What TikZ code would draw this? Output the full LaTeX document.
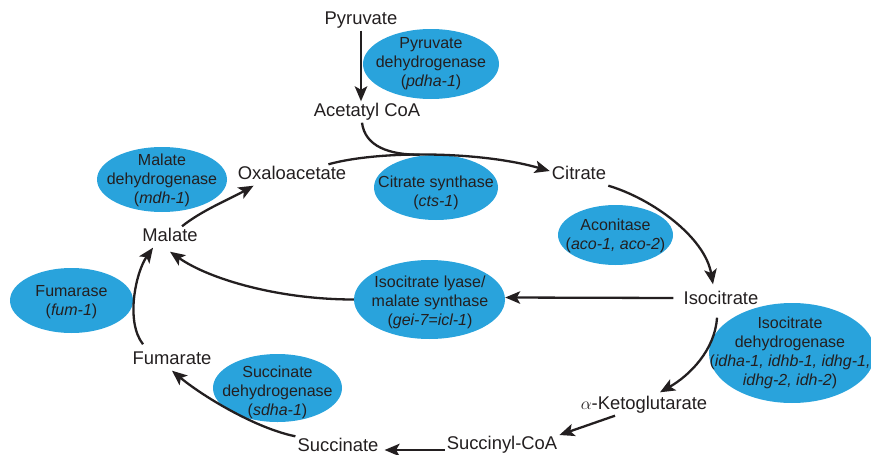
\documentclass[tikz,border=0pt]{standalone}
\usepackage{fontspec}
\setmainfont{Liberation Sans}
\usepackage{tikz}
\usetikzlibrary{arrows.meta,shapes.geometric}
\definecolor{ink}{RGB}{35,31,32}
\definecolor{enzblue}{RGB}{41,163,220}

\begin{document}
\begin{tikzpicture}[x=1pt,y=-1pt,
  met/.style={text=ink,font=\fontsize{18.4}{20}\selectfont,inner sep=2pt,text height=13pt,text depth=4pt},
  enz/.style={ellipse,fill=enzblue,inner sep=0pt},
  enztxt/.style={text=ink,font=\fontsize{16}{19}\selectfont,align=center,inner sep=0pt},
  lnk/.style={draw=ink,line width=2.3pt},
  rxn/.style={lnk,-{Stealth[length=15pt,width=12.5pt,inset=3.5pt]}}]
\useasboundingbox (0,0) rectangle (871,455);

% enzymes
\node[enz,minimum width=136pt,minimum height=70pt] (pdh) at (431,64) {};
\node[enztxt] (pdh-t) at (431,64) {Pyruvate\\dehydrogenase\\(\textit{pdha-1})};
\node[enz,minimum width=130pt,minimum height=65pt] (mdh) at (162,179.5) {};
\node[enztxt] (mdh-t) at (162,180) {Malate\\dehydrogenase\\(\textit{mdh-1})};
\node[enz,minimum width=124pt,minimum height=65pt] (cs) at (436,187.5) {};
\node[enztxt] (cs-t) at (436,193) {Citrate synthase\\(\textit{cts-1})};
\node[enz,minimum width=115pt,minimum height=60pt] (aco) at (615.5,235) {};
\node[enztxt] (aco-t) at (615.5,235.5) {Aconitase\\(\textit{aco-1, aco-2})};
\node[enz,minimum width=151pt,minimum height=79pt] (icl) at (429.5,299.5) {};
\node[enztxt] (icl-t) at (430,302) {Isocitrate lyase/\\malate synthase\\(\textit{gei-7=icl-1})};
\node[enz,minimum width=166pt,minimum height=100pt] (idh) at (792,353) {};
\node[enztxt] (idh-t) at (790,353) {Isocitrate\\dehydrogenase\\(\textit{idha-1, idhb-1, idhg-1,}\\\textit{idhg-2, idh-2})};
\node[enz,minimum width=123pt,minimum height=65pt] (fuma) at (71.5,300.5) {};
\node[enztxt] (fuma-t) at (71.5,302) {Fumarase\\(\textit{fum-1})};
\node[enz,minimum width=129pt,minimum height=68pt] (sdh) at (277.5,388) {};
\node[enztxt] (sdh-t) at (277.5,392) {Succinate\\dehydrogenase\\(\textit{sdha-1})};

% metabolites
\node[met] (pyr) at (361,20) {Pyruvate};
\node[met] (acoa) at (367,112) {Acetatyl CoA};
\node[met] (oxa) at (292,175) {Oxaloacetate};
\node[met] (cit) at (579,175) {Citrate};
\node[met] (iso) at (721,300) {Isocitrate};
\node[met] (akg) at (644,405) {$\alpha$-Ketoglutarate};
\node[met] (scoa) at (502,445) {Succinyl-CoA};
\node[met] (suc) at (338,447) {Succinate};
\node[met] (fum) at (172,360) {Fumarate};
\node[met] (mal) at (170,237) {Malate};

% reactions
\draw[rxn] (pyr.south) -- (pyr.south |- acoa.north);
\draw[rxn] ([xshift=-20pt]oxa.north east) .. controls +(50,-14) and +(-70,-20) .. ([yshift=4pt]cit.west) coordinate[pos=.45] (join);
\draw[lnk] ([xshift=-5pt]acoa.south) .. controls +(3,24) and +(-30,0) .. (join);
\draw[rxn] (cit.south east) .. controls +(44,13) and +(-8,-47) .. ([xshift=-8pt,yshift=5pt]iso.north);
\draw[rxn] ([xshift=-4pt,yshift=-7pt]iso.south) .. controls +(-2,32) and +(30,-17) .. ([xshift=16pt,yshift=2pt]akg.north);
\draw[rxn] ([xshift=-29pt]akg.south) -- ([yshift=10pt]scoa.east);
\draw[rxn,shorten >=4pt] ([yshift=-5pt]scoa.west) -- ([yshift=-5pt]scoa.west -| suc.east);
\draw[rxn] (suc.north west) .. controls +(-40,-8) and +(30,25) .. (fum.south);
\draw[rxn] ([xshift=-29pt,yshift=5pt]fum.north) .. controls +(-18,-23) and +(-17,24) .. ([xshift=-17pt]mal.south);
\draw[rxn] ([xshift=-8pt,yshift=2pt]iso.west) -- ([yshift=2pt]icl.east);
\draw[rxn] (icl.west) .. controls +(-74,0) and +(40,28) .. ([yshift=-4pt]mal.south);
\draw[rxn] ([xshift=12pt]mal.north) .. controls +(20,-16) and +(-25,14) .. ([xshift=18pt]oxa.south west);
\end{tikzpicture}
\end{document}
